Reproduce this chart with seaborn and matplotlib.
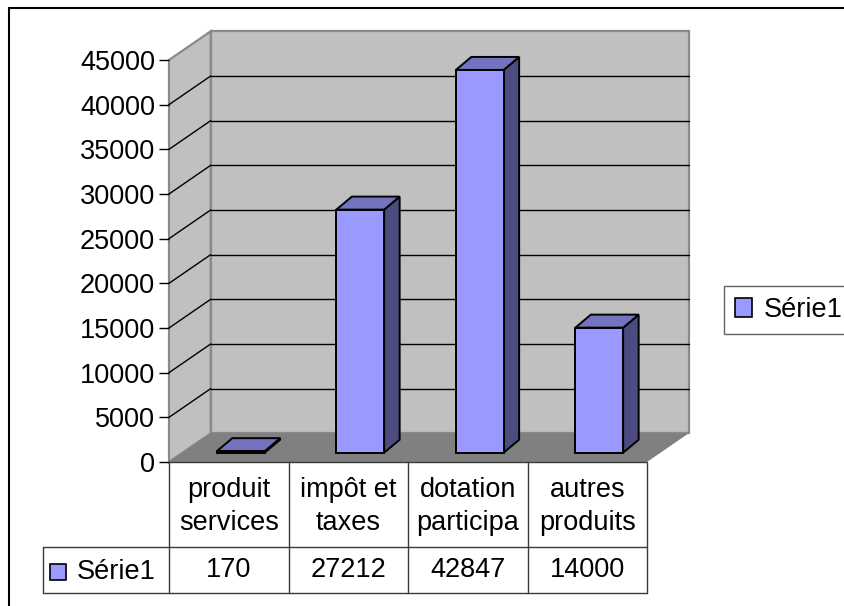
import matplotlib
matplotlib.use("Agg")
import matplotlib.pyplot as plt
from matplotlib.patches import Polygon, Rectangle, Patch
import seaborn as sns

# --- Data ---
categories = ["produit\nservices", "impôt et\ntaxes", "dotation\nparticipa", "autres\nproduits"]
values = [170, 27212, 42847, 14000]
series_name = "Série1"
y_ticks = list(range(0, 45001, 5000))

# --- Style ---
FRONT = "#9999ff"
TOP = "#7373bf"
SIDE = "#4c4c80"
WALL = "#c0c0c0"
FLOOR = "#808080"
FS = 19.5

sns.set_style("white")
plt.rcParams["font.family"] = ["Liberation Sans", "DejaVu Sans"]
plt.rcParams["text.color"] = "black"
plt.rcParams["ytick.color"] = "black"

W, H = 844, 606
fig = plt.figure(figsize=(W / 100, H / 100), dpi=100)

# front plane of the 3D box, in pixels
left, right, bottom, top = 169, 647, 462, 60
ax = fig.add_axes([left / W, 1 - bottom / H, (right - left) / W, (bottom - top) / H])

sns.barplot(x=list(range(len(values))), y=values, color=FRONT, saturation=1,
            width=0.4, edgecolor="black", linewidth=1.4, ax=ax, zorder=5)

ymax = y_ticks[-1]
ax.set_xlim(-0.5, len(values) - 0.5)
ax.set_ylim(0, ymax)
px_x = len(values) / (right - left)      # data units per pixel
px_y = ymax / (bottom - top)

# depth of the box, of the bar offset and of the bars (pixels)
dx, dy = 41.7 * px_x, 28.7 * px_y
ox, oy = 12 * px_x, 9.3 * px_y
bx, by = 15.5 * px_x, 13 * px_y

x0, x1 = -0.5, len(values) - 0.5
ax.add_patch(Polygon([(x0 + dx, dy), (x1 + dx, dy), (x1 + dx, ymax + dy), (x0 + dx, ymax + dy)],
                     closed=True, fc=WALL, ec="#8a8a8a", lw=1.6, zorder=0, clip_on=False))
ax.add_patch(Polygon([(x0, 0), (x0 + dx, dy), (x0 + dx, ymax + dy), (x0, ymax)],
                     closed=True, fc=WALL, ec="#8a8a8a", lw=1.6, zorder=0, clip_on=False))
ax.add_patch(Polygon([(x0, 0), (x1, 0), (x1 + dx, dy), (x0 + dx, dy)],
                     closed=True, fc=FLOOR, ec="none", zorder=1, clip_on=False))
for v in y_ticks[1:-1]:
    ax.plot([x0 + dx, x1 + dx], [v + dy, v + dy], color="black", lw=1.0, zorder=2, clip_on=False)
    ax.plot([x0, x0 + dx], [v, v + dy], color="black", lw=1.0, zorder=2, clip_on=False)

# 3D faces of the bars
for p in ax.patches[:len(values)]:
    bx0, w, h = p.get_x(), p.get_width(), p.get_height()
    p.set_x(bx0 + ox)
    p.set_y(oy)
    p.set_clip_on(False)
    a, b = bx0 + ox, bx0 + ox + w
    ax.add_patch(Polygon([(b, oy), (b + bx, oy + by), (b + bx, oy + by + h), (b, oy + h)],
                         closed=True, fc=SIDE, ec="black", lw=1.4, zorder=4, clip_on=False))
    ax.add_patch(Polygon([(a, oy + h), (b, oy + h), (b + bx, oy + h + by), (a + bx, oy + h + by)],
                         closed=True, fc=TOP, ec="black", lw=1.4, zorder=4, clip_on=False))

ax.set_yticks(y_ticks)
ax.set_yticklabels([str(t) for t in y_ticks], fontsize=FS, color="black")
ax.tick_params(axis="y", length=7, width=1, color="black", pad=3, left=True)
ax.set_xticks([])
ax.set_xlabel("")
ax.set_ylabel("")
for s in ax.spines.values():
    s.set_visible(False)
ax.patch.set_visible(False)

# --- Data table and frame (pixel overlay) ---
deco = fig.add_axes([0, 0, 1, 1])
deco.set_xlim(0, W)
deco.set_ylim(H, 0)
deco.axis("off")

col_w = (right - left) / len(values)
row_mid, row_bot, lab_left = 547, 593, 43
lc = "#3a3a3a"
deco.plot([left, right], [bottom, bottom], color=lc, lw=1)
deco.plot([lab_left, right], [row_mid, row_mid], color=lc, lw=1)
deco.plot([lab_left, right], [row_bot, row_bot], color=lc, lw=1)
deco.plot([lab_left, lab_left], [row_mid, row_bot], color=lc, lw=1)
for i in range(len(values) + 1):
    xc = left + i * col_w
    deco.plot([xc, xc], [bottom, row_bot], color=lc, lw=1)
for i, (cat, val) in enumerate(zip(categories, values)):
    xc = left + (i + 0.5) * col_w
    for j, line in enumerate(cat.split("\n")):
        deco.text(xc, 490 + 33 * j, line, ha="center", va="center", fontsize=FS)
    deco.text(xc, 570, str(val), ha="center", va="center", fontsize=FS)
deco.add_patch(Rectangle((50, 564), 16, 16, fc=FRONT, ec="black", lw=1.2))
deco.text(77, 572, series_name, ha="left", va="center", fontsize=FS)

# outer frame (top and left edges only are inside the image)
deco.plot([9, W], [8, 8], color="black", lw=1.5)
deco.plot([9, 9], [8, H], color="black", lw=1.5)

# --- Legend ---
leg = fig.legend(handles=[Patch(fc=FRONT, ec="black", lw=1.2, label=series_name)],
                 loc="center left", bbox_to_anchor=(724 / W, 1 - 310 / H),
                 borderaxespad=0, fontsize=FS, frameon=True, fancybox=False,
                 handlelength=0.65, handleheight=0.65, handletextpad=0.4, borderpad=0.4)
leg.get_frame().set_edgecolor("#3a3a3a")
leg.get_frame().set_linewidth(1)

fig.savefig("out.png", dpi=100)
